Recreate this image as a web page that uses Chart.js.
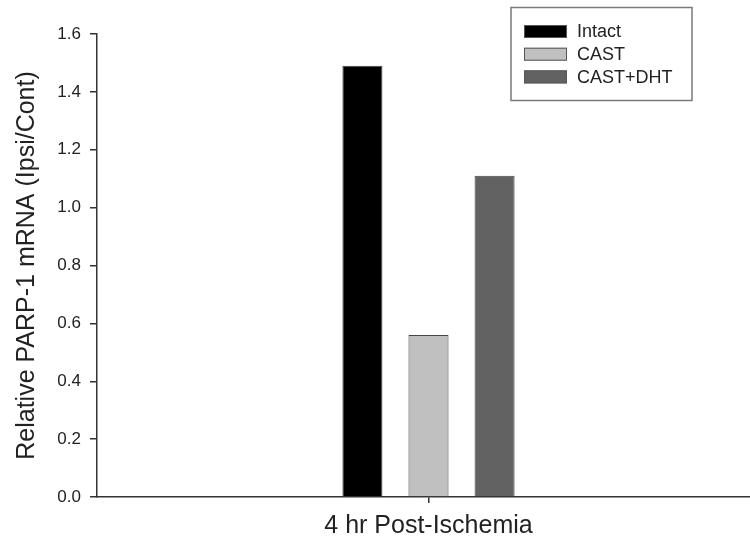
<!DOCTYPE html>
<html>
<head>
<meta charset="utf-8">
<script src="https://cdn.jsdelivr.net/npm/chart.js@4.4.1/dist/chart.umd.min.js"></script>
<style>
  html, body { margin: 0; padding: 0; background: #fff; overflow: hidden; }
  #wrap { width: 760px; height: 547px; }
</style>
</head>
<body>
<div id="wrap"><canvas id="chart" width="760" height="547"></canvas></div>
<script>
const categories = ["4 hr Post-Ischemia"];
const seriesNames = ["Intact", "CAST", "CAST+DHT"];
const intact = [1.49];
const cast = [0.56];
const castDht = [1.11];
const yTicks = [0, 0.2, 0.4, 0.6, 0.8, 1.0, 1.2, 1.4, 1.6];

const fills = ["#000000", "#c0c0c0", "#626262"];
const font = "'Liberation Sans', Arial, sans-serif";
const ink = "#222";

// boxed legend in the top right corner
const boxLegend = {
  id: "boxLegend",
  afterDraw(chart) {
    const c = chart.ctx;
    c.save();
    c.strokeStyle = "#7a7a7a";
    c.lineWidth = 1.5;
    c.strokeRect(511, 7.5, 181, 93);
    c.font = "18px " + font;
    c.textBaseline = "middle";
    chart.data.datasets.forEach((ds, i) => {
      const y = 31.5 + i * 22.7;
      c.fillStyle = ds.backgroundColor;
      c.fillRect(524, y - 6.5, 43, 13);
      c.strokeStyle = "#555";
      c.lineWidth = 1;
      c.strokeRect(524.5, y - 6, 42, 12);
      c.fillStyle = ink;
      c.fillText(ds.label, 577, y + 1);
    });
    c.restore();
  }
};

new Chart(document.getElementById("chart"), {
  type: "bar",
  data: {
    labels: categories,
    datasets: [intact, cast, castDht].map((d, i) => ({
      label: seriesNames[i],
      data: d,
      backgroundColor: fills[i],
      borderColor: "#444",
      borderWidth: 1,
      categoryPercentage: 0.299,
      barPercentage: 0.606
    }))
  },
  options: {
    responsive: false,
    animation: false,
    layout: { padding: { top: 34, right: 0, left: 0, bottom: 0 } },
    plugins: { legend: { display: false }, tooltip: { enabled: false } },
    scales: {
      x: {
        afterFit: s => { s.height = 50; },
        grid: { offset: false, drawOnChartArea: false, drawTicks: true, tickLength: 6, color: "#333", lineWidth: 1.5 },
        border: { display: true, color: "#333", width: 1.5 },
        ticks: { display: false },
        title: { display: true, text: categories[0], color: ink, font: { family: font, size: 25 }, padding: { bottom: 6 } }
      },
      y: {
        min: 0,
        max: 1.6,
        afterFit: s => { s.width = 97; },
        afterBuildTicks: s => { s.ticks = yTicks.map(v => ({ value: v })); },
        grid: { drawOnChartArea: false, drawTicks: true, tickLength: 7, color: "#333", lineWidth: 1.5 },
        border: { display: true, color: "#333", width: 1.5 },
        ticks: { color: ink, padding: 9, font: { family: font, size: 17 }, callback: v => v.toFixed(1) },
        title: { display: true, text: "Relative PARP-1 mRNA (Ipsi/Cont)", color: ink, font: { family: font, size: 25 }, padding: { top: 12 } }
      }
    }
  },
  plugins: [boxLegend]
});
</script>
</body>
</html>
